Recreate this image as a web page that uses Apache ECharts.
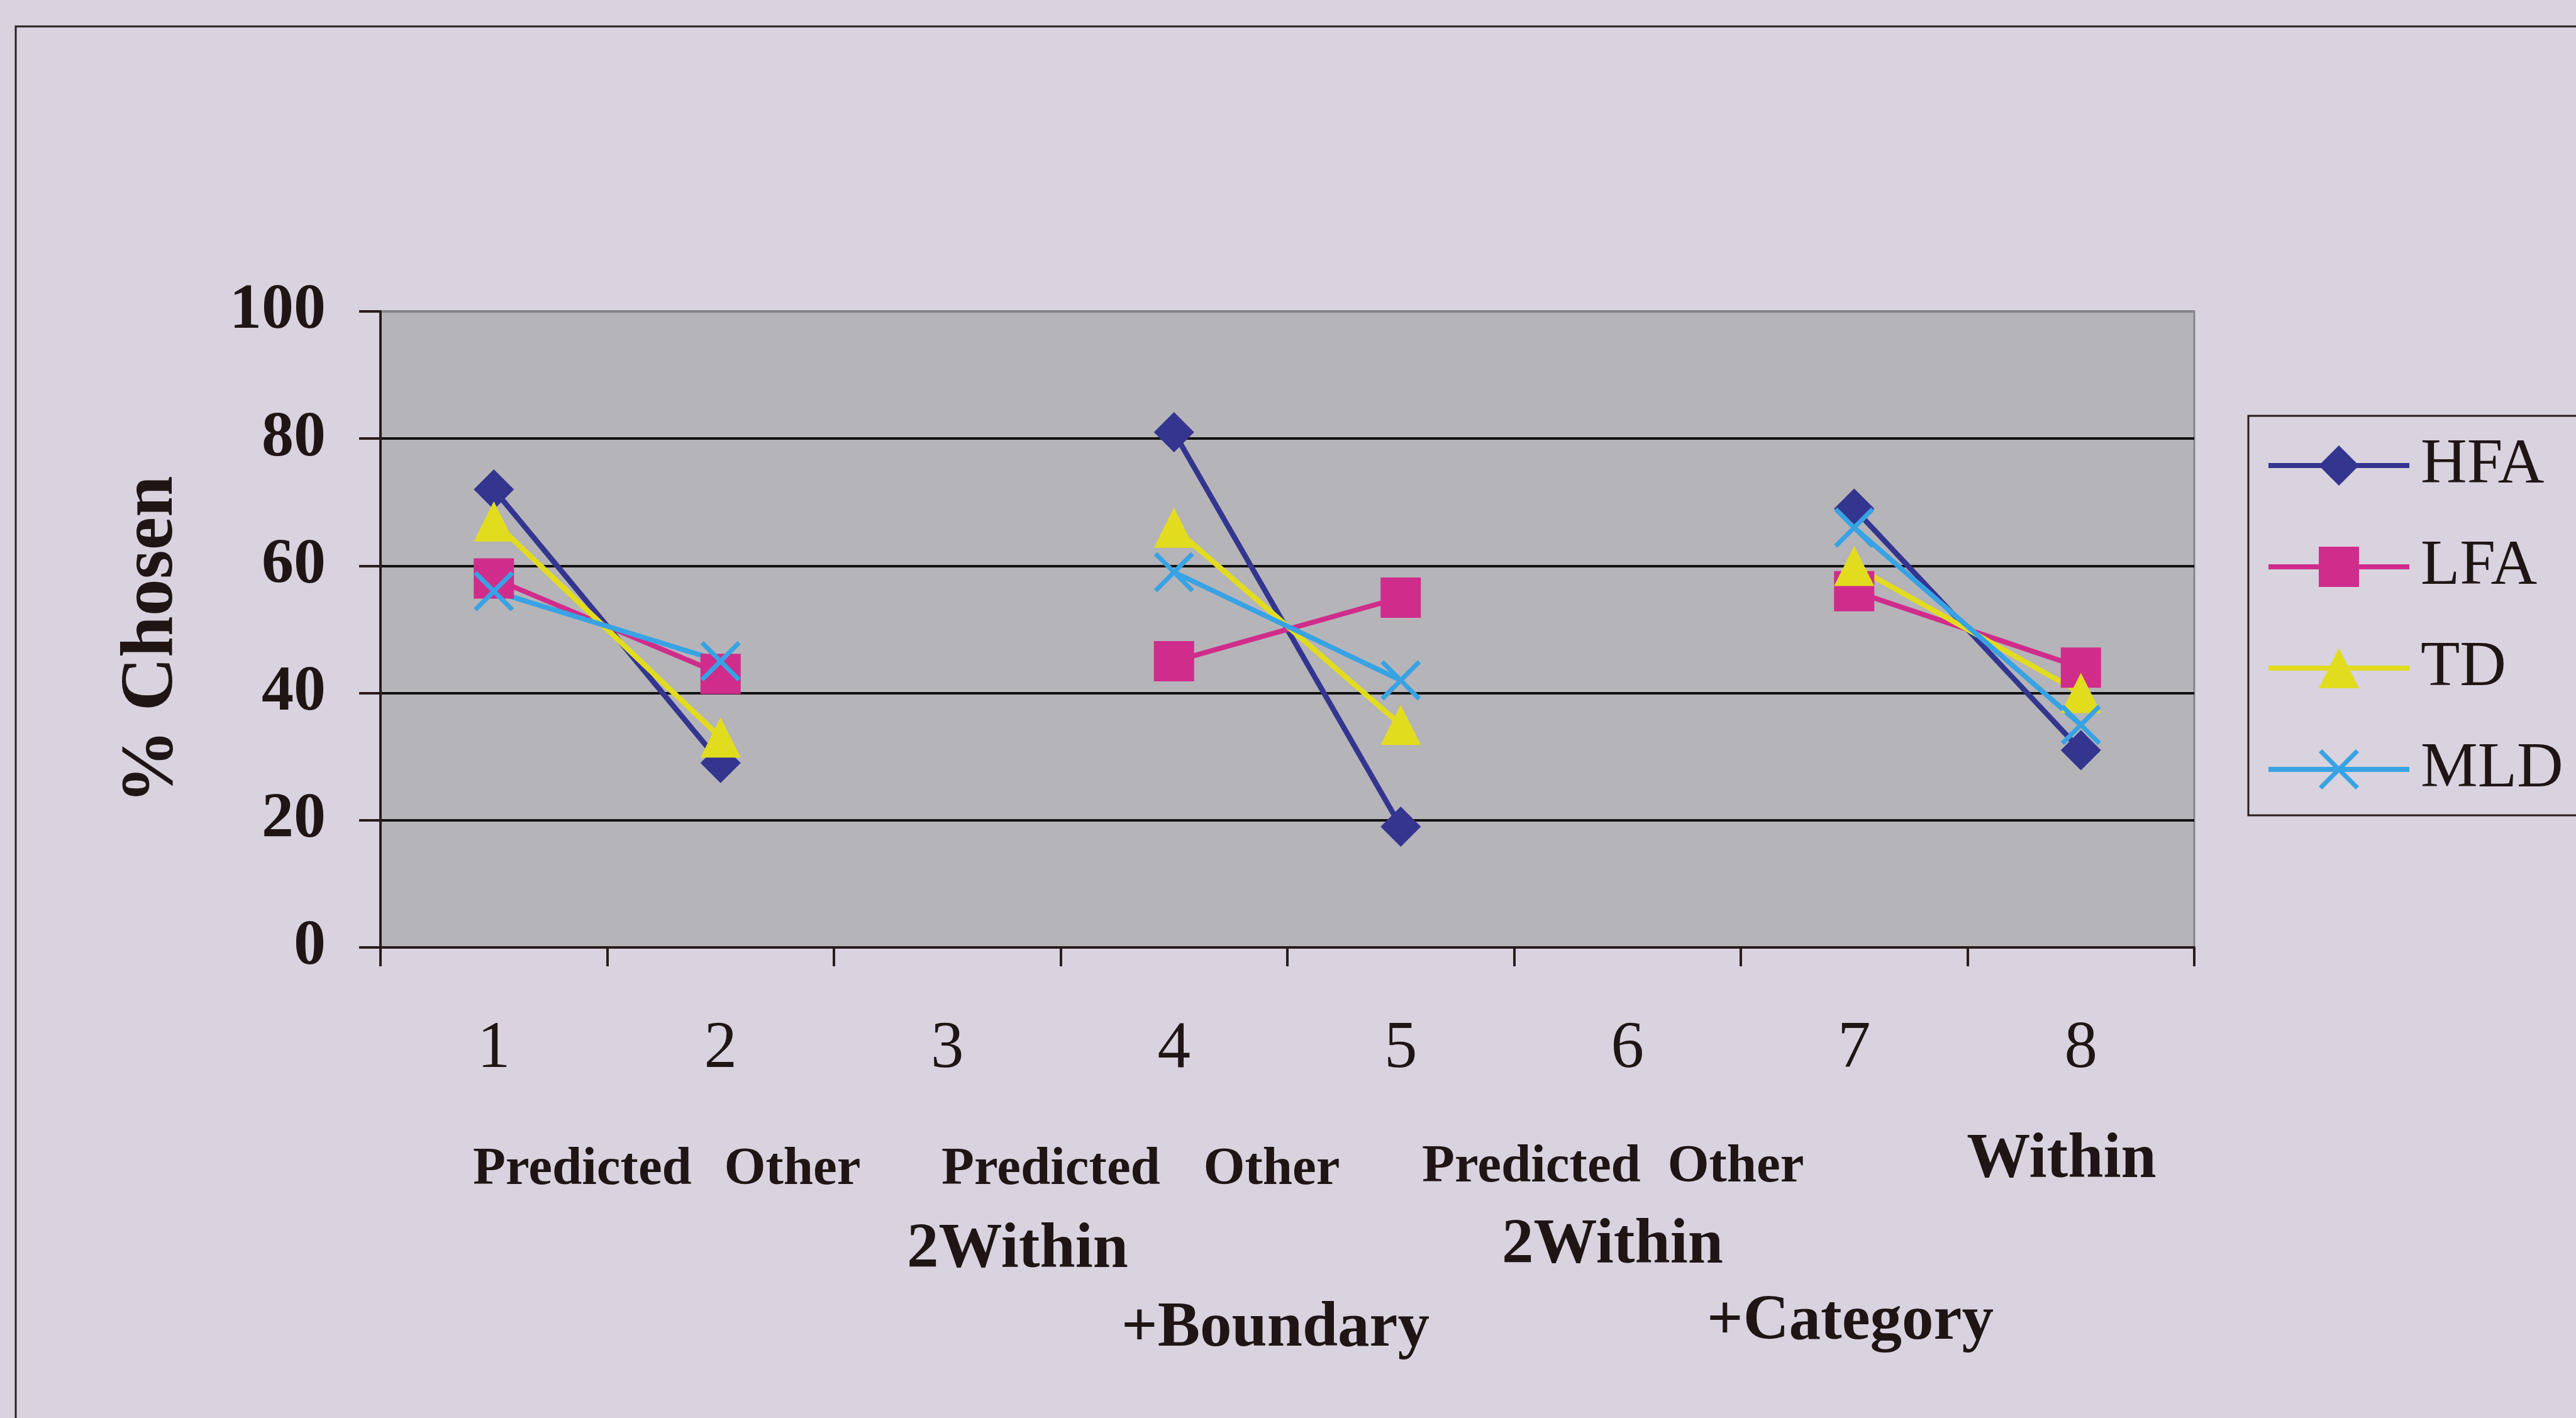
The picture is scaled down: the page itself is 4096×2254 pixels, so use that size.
<!DOCTYPE html>
<html>
<head>
<meta charset="utf-8">
<script src="https://cdn.jsdelivr.net/npm/echarts@6/dist/echarts.min.js"></script>
<style>
  html, body { margin: 0; padding: 0; background: #d8d3de; }
  #chart { width: 4096px; height: 2254px; }
</style>
</head>
<body>
<div id="chart"></div>
<script>
// Conditions along the x axis
const categories = ['1', '2', '3', '4', '5', '6', '7', '8'];

// % chosen per group (gaps at 3 and 6 separate the three comparisons)
const hfa = [72, 29, null, 81, 19, null, 69, 31];
const lfa = [58, 43, null, 45, 55, null, 56, 44];
const td  = [67, 33, null, 66, 35, null, 60, 40];
const mld = [56, 45, null, 59, 42, null, 66, 35];

const seriesNames = ['HFA', 'LFA', 'TD', 'MLD'];

// Value axis range
const yMin = 0, yMax = 100, yStep = 20;

// Condition captions under the axis
const captionRow1 = ['Predicted', 'Other', 'Predicted', 'Other', 'Predicted', 'Other', 'Within'];
const captionRow2 = ['2Within', '2Within'];
const captionRow3 = ['+Boundary', '+Category'];
const axisTitle = '% Chosen';

const FONT = '"Liberation Serif", "Times New Roman", serif';
const INK = '#1f1515';

const crossPath = 'path://M0,8L8,0L50,42L92,0L100,8L58,50L100,92L92,100L50,58L8,100L0,92L42,50Z';

function lineSeries(name, data, color, symbol, width) {
  return {
    name: name,
    type: 'line',
    data: data,
    connectNulls: false,
    symbol: symbol,
    symbolSize: 64,
    showSymbol: true,
    lineStyle: { color: color, width: width },
    itemStyle: { color: color, borderWidth: 0 },
    emphasis: { disabled: true }
  };
}

// caption placement: [centre x, centre y, font size]
const row1Pos = [[926, 1860, 85], [1260, 1860, 85], [1671, 1860, 85], [2022, 1860, 85],
                 [2435, 1856, 85], [2760, 1856, 85], [3278, 1845, 101]];
const row2Pos = [[1618, 1988, 101], [2564, 1981, 101]];
const row3Pos = [[2028, 2113, 101], [2942, 2102, 101]];

function captionTexts(texts, pos) {
  return texts.map(function (t, i) {
    return {
      type: 'text',
      x: pos[i][0],
      y: pos[i][1],
      style: {
        text: t,
        fontFamily: FONT,
        fontWeight: 'bold',
        fontSize: pos[i][2],
        fill: INK,
        align: 'center',
        verticalAlign: 'middle'
      }
    };
  });
}

const chart = echarts.init(document.getElementById('chart'), null, { renderer: 'canvas' });

chart.setOption({
  animation: false,
  backgroundColor: '#d8d3de',
  grid: {
    left: 605,
    right: 607,
    top: 495,
    bottom: 748,
    show: true,
    backgroundColor: '#b5b4b9',
    borderColor: '#85848a',
    borderWidth: 3
  },
  xAxis: {
    type: 'category',
    data: categories,
    boundaryGap: true,
    axisLine: { show: true, lineStyle: { color: '#2a1c1c', width: 4 } },
    axisTick: { show: true, inside: false, length: 30, interval: 0, lineStyle: { color: '#2a1c1c', width: 4 } },
    axisLabel: {
      margin: 110,
      interval: 0,
      fontFamily: FONT,
      fontSize: 105,
      lineHeight: 105,
      color: INK
    },
    splitLine: { show: false }
  },
  yAxis: {
    type: 'value',
    min: yMin,
    max: yMax,
    interval: yStep,
    axisLine: { show: true, lineStyle: { color: '#2a1c1c', width: 4 } },
    axisTick: { show: true, inside: false, length: 34, lineStyle: { color: '#2a1c1c', width: 4 } },
    axisLabel: {
      margin: 87,
      fontFamily: FONT,
      fontWeight: 'bold',
      fontSize: 102,
      color: INK
    },
    splitLine: {
      show: true,
      lineStyle: { color: ['#111111', '#111111', '#111111', '#111111', '#111111', '#85848a'], width: 4 }
    }
  },
  legend: {
    orient: 'vertical',
    left: 3575,
    top: 661,
    data: seriesNames,
    itemWidth: 224,
    itemHeight: 80,
    itemGap: 59,
    padding: [28, 60, 22, 28],
    borderColor: '#2a1c1c',
    borderWidth: 3,
    backgroundColor: 'transparent',
    selectedMode: false,
    lineStyle: { width: 8 },
    textStyle: {
      fontFamily: FONT,
      fontSize: 102,
      lineHeight: 80,
      color: INK,
      padding: [0, 0, 0, 13]
    }
  },
  series: [
    lineSeries('HFA', hfa, '#34358f', 'diamond', 8.5),
    lineSeries('LFA', lfa, '#d02c8b', 'rect', 8),
    lineSeries('TD',  td,  '#e2dc1f', 'triangle', 8.5),
    lineSeries('MLD', mld, '#38a3e4', crossPath, 8)
  ],
  graphic: [
    {
      type: 'rect',
      shape: { x: 25, y: 42, width: 4300, height: 2500 },
      style: { fill: 'none', stroke: '#2a2020', lineWidth: 3 },
      silent: true
    },
    {
      type: 'text',
      x: 243,
      y: 1017,
      rotation: Math.PI / 2,
      style: {
        text: axisTitle,
        fontFamily: FONT,
        fontWeight: 'bold',
        fontSize: 118,
        fill: INK,
        align: 'center',
        verticalAlign: 'middle'
      }
    }
  ].concat(captionTexts(captionRow1, row1Pos))
   .concat(captionTexts(captionRow2, row2Pos))
   .concat(captionTexts(captionRow3, row3Pos))
});
</script>
</body>
</html>
